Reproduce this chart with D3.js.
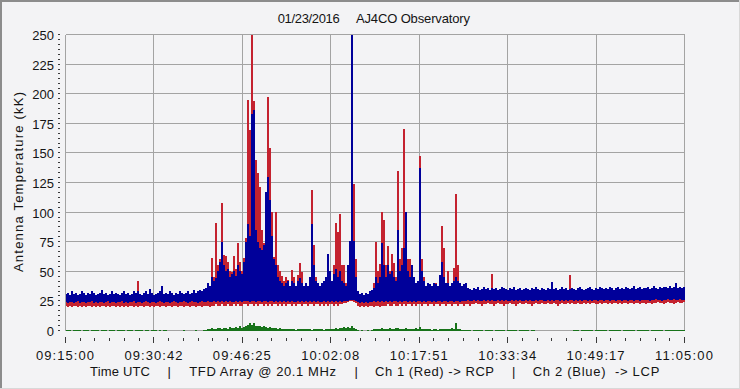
<!DOCTYPE html>
<html><head><meta charset="utf-8">
<script src="https://cdn.jsdelivr.net/npm/d3@7/dist/d3.min.js"></script>
<style>
html,body{margin:0;padding:0;background:#f3f3f5;}
svg{display:block;}
text{font-family:"Liberation Sans",Arial,sans-serif;font-size:13px;fill:#141414;}
</style>
</head><body>
<svg id="chart" width="740" height="389"></svg>
<script>
// ---------- data (~21 s per bin, 09:15:00 -> 11:05:00) ----------
const titleDate = "01/23/2016";
const titleSite = "AJ4CO Observatory";
const yAxisTitle = "Antenna Temperature (kK)";
const xTickLabels = ["09:15:00","09:30:42","09:46:25","10:02:08","10:17:51","10:33:34","10:49:17","11:05:00"];
const yTickValues = [0,25,50,75,100,125,150,175,200,225,250];
const footerParts = ["Time UTC","|","TFD Array @ 20.1 MHz","|","Ch 1 (Red) -> RCP","|","Ch 2 (Blue)  -> LCP"];

// Ch 2 (Blue, LCP) upper envelope per bin
const blueHi = [
31,32,30,33,31,32,30,31,33,32, 30,32,31,33,32,30,31,32,34,31,
32,30,31,33,31,32,31,30,32,33, 31,32,30,31,33,32,33,31,30,32,
33,31,35,32,30,31,32,33,38,31, 32,31,33,32,30,32,31,33,32,31,
32,33,31,32,34,32,33,34,33,35, 36,40,38,45,42,44,50,58,75,55,
50,52,45,48,50,46,55,50,48,58, 75,90,80,183,186,85,75,70,68,72,
117,130,110,80,60,55,45,42,40,38, 40,42,38,42,40,38,42,44,40,38,
40,38,45,90,55,42,40,38,40,42, 45,65,50,42,48,52,45,50,42,40,
38,55,76,250,76,45,33,31,32,30, 32,31,33,34,36,45,40,45,74,55,
45,55,48,50,45,42,85,50,55,70, 100,50,45,55,45,40,42,137,50,42,
38,40,39,38,40,39,38,47,58,45, 40,40,38,40,42,45,42,40,38,39,
40,36,35,34,36,35,37,34,35,37, 35,36,34,36,35,36,34,35,37,36,
35,34,36,35,37,34,35,36,34,35, 36,35,34,36,35,37,35,34,36,35,
34,36,35,41,35,36,34,35,37,35, 36,34,35,36,35,34,36,37,35,34,
35,36,37,35,34,36,35,37,36,35, 36,35,37,36,34,36,37,35,36,35,
37,36,35,36,38,35,36,37,35,36, 36,37,35,36,38,36,35,37,36,37,
37,36,38,36,37,40,36,37,36,37];
// Ch 2 (Blue) lower envelope per bin
const blueLo = [
24,23,24,24,23,24,25,23,24,24, 23,24,24,25,23,24,23,24,24,23,
24,25,23,24,24,23,24,24,25,23, 24,23,24,24,25,23,24,24,23,24,
25,24,23,24,24,23,24,25,24,23, 24,24,23,24,25,24,23,24,24,25,
24,23,24,25,24,24,23,24,25,24, 24,25,24,24,25,24,25,24,25,24,
25,24,25,24,24,25,24,25,24,25, 25,25,24,25,25,24,25,25,24,25,
25,24,25,25,24,25,24,25,24,25, 24,25,24,25,24,24,25,24,25,24,
25,24,25,24,25,24,25,24,24,25, 24,25,24,25,24,25,24,25,24,25,
25,25,26,26,26,25,24,23,24,23, 24,23,24,24,25,24,25,24,25,24,
25,24,25,24,25,25,24,25,24,25, 25,24,25,24,25,24,25,25,24,25,
24,25,25,24,25,24,25,25,24,25, 25,24,25,25,24,25,25,24,25,25,
25,26,25,25,26,25,26,25,25,26, 25,26,25,26,25,25,26,25,26,25,
26,25,25,26,25,26,25,26,25,25, 26,25,26,25,25,26,25,26,26,25,
25,26,25,26,25,26,26,25,26,25, 26,25,26,26,25,26,25,26,25,26,
26,25,26,25,26,26,25,26,26,25, 26,26,25,26,26,25,26,26,25,26,
26,25,26,26,25,26,26,25,26,26, 26,26,25,26,26,27,26,26,25,26,
26,27,26,26,27,26,26,27,26,26];
// Ch 1 (Red, RCP) upper envelope per bin
const redHi = [
27,28,27,29,28,27,28,27,28,29, 28,27,28,27,29,28,27,28,28,27,
28,29,27,28,27,28,29,27,28,28, 27,28,28,29,27,28,42,28,27,28,
28,27,29,28,27,28,29,28,30,27, 28,27,28,29,28,27,28,28,27,29,
28,27,29,28,27,28,29,28,30,29, 30,32,35,61,45,91,55,60,108,64,
63,58,50,49,63,52,74,58,50,61, 78,195,169,250,194,144,133,121,85,74,
113,197,154,100,62,100,55,50,46,42, 45,43,36,51,45,38,47,57,49,36,
38,36,40,119,72,45,38,36,38,40, 42,45,40,38,55,91,83,98,55,55,
40,45,60,176,124,60,30,28,29,28, 29,28,30,32,40,75,50,56,100,93,
55,71,50,65,57,45,135,60,70,170, 80,60,60,42,38,36,38,147,60,45,
36,38,37,36,38,40,37,40,88,70, 38,50,37,38,53,115,55,38,36,37,
35,33,32,31,32,31,33,31,32,31, 32,31,33,48,32,31,32,33,31,32,
31,32,31,33,32,31,32,31,33,32, 31,32,33,31,32,31,32,33,31,32,
32,31,33,32,31,32,31,33,32,31, 32,31,47,32,31,33,32,31,32,33,
31,32,33,31,32,31,32,33,31,32, 32,31,33,32,31,32,33,31,32,31,
33,32,31,32,33,31,32,31,33,32, 32,31,33,32,31,33,32,31,32,33,
32,33,31,32,33,31,32,33,32,31];
// Ch 1 (Red) lower envelope per bin
const redLo = [
21,20,21,20,21,21,20,21,20,21, 20,21,21,20,21,20,21,20,21,21,
20,21,20,21,21,20,21,20,21,20, 21,20,21,21,20,21,20,21,21,20,
21,21,20,21,20,21,21,20,21,21, 20,21,21,20,21,21,20,21,21,20,
21,21,20,21,21,20,21,21,20,21, 21,21,20,21,21,22,21,21,22,21,
21,22,21,21,22,21,22,21,21,22, 22,21,22,22,21,22,21,22,22,21,
22,21,22,21,22,22,21,22,21,22, 21,22,22,21,22,21,22,22,21,22,
22,21,22,22,21,22,22,21,22,21, 22,21,22,22,21,22,21,22,22,23,
23,24,25,25,24,23,21,20,21,20, 21,20,21,21,20,21,21,20,21,21,
21,22,21,21,22,21,21,22,21,22, 21,22,22,21,22,21,22,22,21,22,
22,21,22,22,21,22,22,21,22,22, 21,22,22,21,22,22,21,22,22,21,
22,22,21,22,22,23,22,22,21,22, 22,23,22,22,21,22,23,22,22,21,
22,22,23,22,22,21,22,23,22,22, 23,22,22,21,22,23,22,22,23,22,
22,23,22,22,23,22,21,22,23,22, 22,23,22,23,22,22,23,22,22,23,
22,23,22,23,23,22,22,23,22,23, 23,22,23,22,23,23,22,23,22,23,
23,22,23,23,22,23,23,22,23,23, 22,23,23,22,23,23,24,23,23,22,
23,24,23,23,22,23,24,23,23,24];
// third trace (green) per bin
const greenHi = [
.5,.5,.5,0,.5,.5,.5,.5,0,.5, .5,.5,0,.5,.5,.5,.5,0,.5,.5,
.5,0,.5,.5,.5,0,.5,.5,.5,.5, 0,.5,.5,.5,0,.5,.5,.5,.5,0,
.5,.5,0,.5,.5,.5,0,.5,0,.5, .5,0,0,0,0,0,0,0,0,.5,
0,0,0,0,0,.5,0,0,0,.5, .5,1,1.5,2,1,1.5,2,2.5,1.5,2,
2,1.5,3,2,2.5,3,2,3.5,2.5,3, 4,5,6.5,5,6,4,3.5,4,3,3.5,
3,2.5,3,2,2.5,2,1.5,2,1.5,1, 1.5,1,1,1.5,1,.5,1,1.5,1,1,
1,1.5,1,.5,1,1,1.5,1,1,.5, 1,1,1.5,1,1,2,1.5,2.5,2,3,
2,3,2.5,3.5,2,1,.5,0,.5,0, 0,.5,0,.5,1,1,1.5,1,2,1.5,
1,1.5,2,1,1.5,2.5,2,1.5,1,1.5, 2,1.5,1,1.5,1,2,1.5,3,1.5,1,
1,1.5,1,.5,1,1,.5,1,1.5,1, 1,1.5,1,2,1.5,6,1.5,1,.5,.5,
.5,.5,.5,0,.5,.5,.5,.5,.5,0, .5,.5,.5,.5,0,.5,.5,.5,.5,.5,
0,.5,.5,.5,.5,.5,0,.5,.5,.5, .5,.5,0,.5,.5,0,0,0,0,0,
0,0,0,0,0,0,0,0,0,0, 0,0,0,0,.5,.5,.5,0,.5,.5,
.5,.5,.5,.5,0,.5,.5,.5,.5,.5, .5,0,.5,.5,.5,.5,.5,.5,0,.5,
.5,.5,.5,.5,.5,0,.5,.5,.5,.5, .5,.5,0,.5,.5,.5,.5,.5,.5,0,
.5,.5,.5,.5,.5,.5,.5,.5,.5,.5];

// ---------- drawing ----------
const totalSeconds = 110 * 60;
const svg = d3.select("#chart");
const x = d3.scaleLinear().domain([0, totalSeconds]).range([65.5, 684.5]);
const y = d3.scaleLinear().domain([0, 250]).range([330.5, 34.5]);
const nDiv = xTickLabels.length - 1;
const xMajor = xTickLabels.map((_, i) => i * totalSeconds / nDiv);
const xMinor = d3.range(nDiv * 6 + 1).map(k => k * totalSeconds / (nDiv * 6));
const yMinor = d3.range(61).map(k => k * 250 / 60);

// page frame
svg.append("rect").attr("width", 740).attr("height", 389).attr("fill", "#f3f3f5");
svg.append("line").attr("x1",0).attr("x2",740).attr("y1",1).attr("y2",1).attr("stroke","#8c8c8c").attr("stroke-width",2);
svg.append("line").attr("x1",1).attr("x2",1).attr("y1",0).attr("y2",389).attr("stroke","#8c8c8c").attr("stroke-width",2);
svg.append("line").attr("x1",0).attr("x2",740).attr("y1",388.5).attr("y2",388.5).attr("stroke","#d8d8d8");
svg.append("line").attr("x1",739.5).attr("x2",739.5).attr("y1",0).attr("y2",389).attr("stroke","#d8d8d8");

// grid
const grid = svg.append("g").attr("shape-rendering","crispEdges").attr("stroke","#a3a3a3").attr("stroke-width",1);
grid.selectAll("line.h").data(yTickValues).join("line").attr("class","h")
  .attr("x1", x(0)).attr("x2", x(totalSeconds)).attr("y1", d => y(d)).attr("y2", d => y(d));
grid.selectAll("line.v").data(xMajor).join("line").attr("class","v")
  .attr("x1", d => x(d)).attr("x2", d => x(d)).attr("y1", y(0)).attr("y2", y(250));

// y axis ticks and labels
const yAx = svg.append("g").attr("fill","#3a3a3a").attr("shape-rendering","crispEdges");
yAx.selectAll("rect").data(yMinor).join("rect")
  .attr("x", 58).attr("width", 2).attr("y", d => Math.round(y(d) - 0.5)).attr("height", 1);
svg.append("g").selectAll("text").data(yTickValues).join("text")
  .attr("x", 54).attr("y", d => y(d) + 5.5).attr("text-anchor","end").text(d => d);

// x axis ticks and labels
const xAx = svg.append("g").attr("stroke","#3a3a3a").attr("shape-rendering","crispEdges");
xAx.selectAll("line.mi").data(xMinor).join("line").attr("class","mi")
  .attr("x1", d => Math.round(x(d) - 0.5) + 0.5).attr("x2", d => Math.round(x(d) - 0.5) + 0.5)
  .attr("y1", 338).attr("y2", 341);
xAx.selectAll("line.ma").data(xMajor).join("line").attr("class","ma")
  .attr("x1", d => Math.round(x(d) - 0.5) + 0.5).attr("x2", d => Math.round(x(d) - 0.5) + 0.5)
  .attr("y1", 337).attr("y2", 343);
svg.append("g").selectAll("text").data(xTickLabels).join("text")
  .attr("x", (d, i) => x(xMajor[i]) - 0.5).attr("y", 360).attr("text-anchor","middle")
  .attr("textLength", 58).attr("lengthAdjust","spacing").text(d => d);

// data bins: each bin drawn as a vertical bar from its low to its high value
const N = blueHi.length;
const dt = totalSeconds / N;
function drawSeries(hi, lo, color) {
  const rows = hi.map((h, i) => ({i, h: Math.min(h, 250), l: lo[i]})).filter(d => d.h > d.l);
  const px0 = d => Math.round(x(d.i * dt));
  const px1 = d => Math.round(x((d.i + 1) * dt));
  svg.append("g").attr("shape-rendering","crispEdges").attr("fill", color)
    .selectAll("rect").data(rows).join("rect")
    .attr("x", px0).attr("width", d => px1(d) - px0(d))
    .attr("y", d => Math.round(y(d.h)))
    .attr("height", d => Math.max(1, Math.round(y(d.l)) - Math.round(y(d.h))));
}
drawSeries(greenHi, greenHi.map(() => 0), "#17731a");
drawSeries(redHi, redLo, "#c4222f");
drawSeries(blueHi, blueLo, "#00009a");

// titles
svg.append("text").attr("x", 277.7).attr("y", 23).attr("textLength", 62).attr("lengthAdjust","spacing").text(titleDate);
svg.append("text").attr("x", 356).attr("y", 23).attr("textLength", 114).attr("lengthAdjust","spacing").text(titleSite);
svg.append("text").attr("transform","translate(23,182) rotate(-90)").attr("text-anchor","middle")
  .attr("textLength", 180).attr("lengthAdjust","spacing").text(yAxisTitle);

// footer line
const footerX = [90, 167.5, 189.3, 354.5, 375, 512, 532.7];
const footerW = [60, 0, 146.7, 0, 119, 0, 126.6];
svg.append("g").selectAll("text").data(footerParts).join("text")
  .attr("x", (d, i) => footerX[i]).attr("y", 376)
  .each(function(d, i){ if (footerW[i] > 0) d3.select(this).attr("textLength", footerW[i]).attr("lengthAdjust","spacing"); })
  .style("white-space","pre").text(d => d);
</script>
</body></html>
